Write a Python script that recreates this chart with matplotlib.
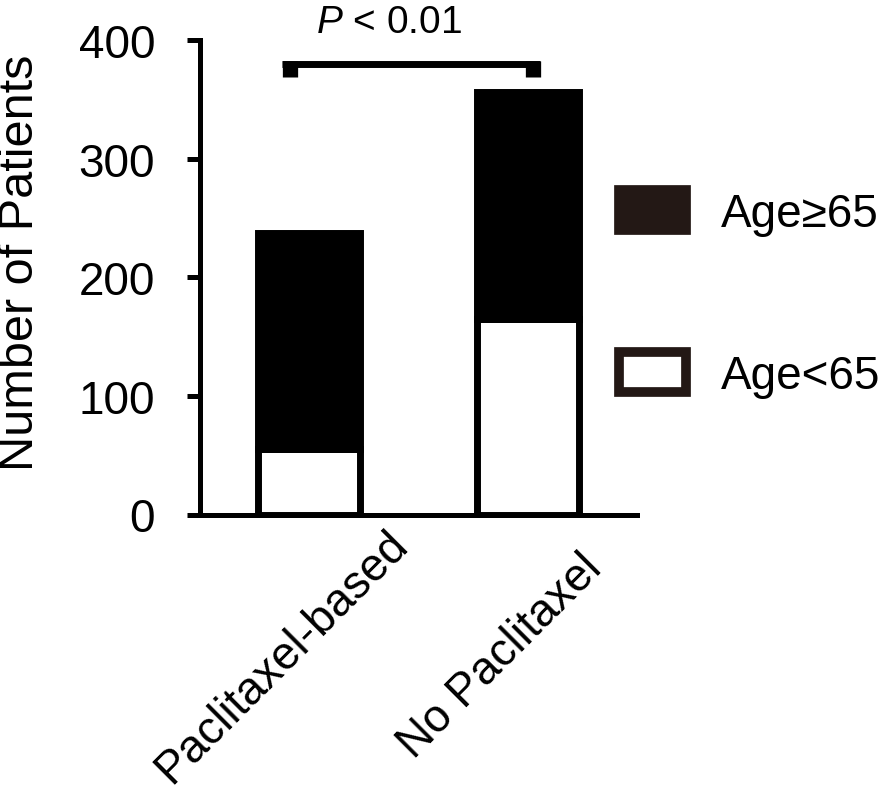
import matplotlib
matplotlib.use('Agg')
import matplotlib.pyplot as plt
from matplotlib.patches import Patch
from matplotlib.transforms import ScaledTranslation

plt.rcParams['font.family'] = ['Liberation Sans', 'DejaVu Sans']
plt.rcParams['mathtext.fontset'] = 'custom'
plt.rcParams['mathtext.rm'] = 'Liberation Sans'
plt.rcParams['mathtext.it'] = 'Liberation Sans:italic'

# Data
groups = ['Paclitaxel-based', 'No Paclitaxel']
age_under_65 = [55, 165]
age_65_plus = [182, 191]
series_labels = ['Age≥65', 'Age<65']
p_text = r'$P$ < 0.01'

# significance bracket (data units)
bracket_x = (-0.125, 1.056)
bracket_ticks_x = (-0.09, 1.022)
bracket_y = 380
bracket_tick_bottom = 369

legend_color = '#231815'

fig = plt.figure(figsize=(8.94, 8.03), dpi=100)
ax = fig.add_axes([200 / 894, 1 - 515.5 / 803, 437 / 894, 474.5 / 803])

x = list(range(len(groups)))
bar_width = 0.465
ax.bar(x, age_under_65, width=bar_width, color='white', edgecolor='black',
       linewidth=5)
ax.bar(x, age_65_plus, width=bar_width, bottom=age_under_65, color='black',
       edgecolor='black', linewidth=5)

ax.set_xlim(-0.5, 1.5)
ax.set_ylim(0, 400)
ax.set_yticks([0, 100, 200, 300, 400])

for side in ['top', 'right']:
    ax.spines[side].set_visible(False)
for side in ['left', 'bottom']:
    ax.spines[side].set_linewidth(3.6)

ax.tick_params(axis='y', length=9.4, width=3.6, pad=23, labelsize=33)
ax.tick_params(axis='x', length=0, pad=102)
ax.set_xticks(x)
ax.set_xticklabels(groups, rotation=45, ha='center', va='center', fontsize=33)
shift = ScaledTranslation(-27 / 100, 0, fig.dpi_scale_trans)
for lbl in ax.get_xticklabels():
    lbl.set_transform(lbl.get_transform() + shift)

fig.text(21 / 894, 1 - 262.5 / 803, 'Number of Patients', rotation=90,
         ha='center', va='center', fontsize=35)

# bracket with P value
ax.plot(bracket_x, [bracket_y, bracket_y], color='black', linewidth=5,
        solid_capstyle='butt')
for bx in bracket_ticks_x:
    ax.plot([bx, bx], [bracket_y + 2, bracket_tick_bottom], color='black',
            linewidth=11, solid_capstyle='butt')
ax.text(0.365, 407, p_text, ha='center', va='baseline', fontsize=28)

handles = [
    Patch(facecolor=legend_color, edgecolor=legend_color, linewidth=7,
          joinstyle='round'),
    Patch(facecolor='white', edgecolor=legend_color, linewidth=7,
          joinstyle='round'),
]
fig.legend(handles, series_labels, loc='center left',
           bbox_to_anchor=(619 / 894, 1 - 295 / 803), frameon=False,
           fontsize=33, borderpad=0, borderaxespad=0, handlelength=1.46,
           handleheight=0.967, handletextpad=0.76, labelspacing=2.55)

fig.savefig('out.png', dpi=100)
